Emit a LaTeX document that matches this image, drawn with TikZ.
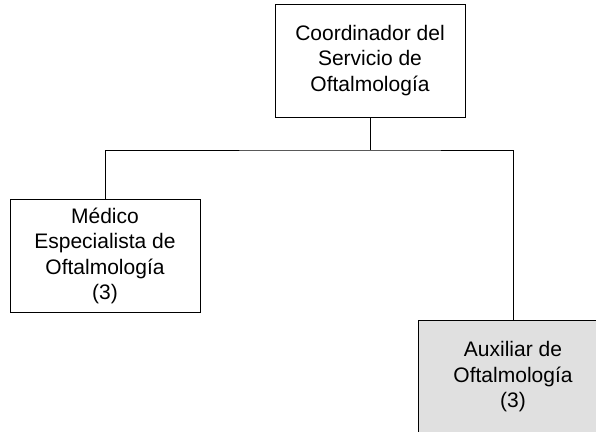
\documentclass[tikz,border=0pt]{standalone}
\usepackage{fontspec}
\setsansfont{Liberation Sans}
\usepackage{tikz}
\usetikzlibrary{positioning,calc}
\tikzset{
  cargo/.style={draw=black, line width=1pt, align=center, minimum width=190pt, minimum height=113pt, inner sep=3pt, font=\sffamily\fontsize{21}{25.5}\selectfont},
  cargogris/.style={cargo, fill=black!12},
  rama/.style={line width=1pt}
}

\begin{document}
\begin{tikzpicture}[x=1pt, y=-1pt]
\useasboundingbox (0,0) rectangle (596,431);
\clip (0,0) rectangle (596,431);
% cargos
\node[cargo] (coord) at (370,60.5) {Coordinador del\\Servicio de\\Oftalmología};
\node[cargo] (medico) at (105,256) {Médico\\Especialista de\\Oftalmología\\(3)};
\node[cargogris] (aux) at (513,377) {Auxiliar de\\Oftalmología\\(3)};
% organigrama
\coordinate (bus) at (370,150);
\draw[rama] (coord.south) -- (bus);
\draw[rama] (medico.north) |- (bus) -| (aux.north);
\end{tikzpicture}
\end{document}
